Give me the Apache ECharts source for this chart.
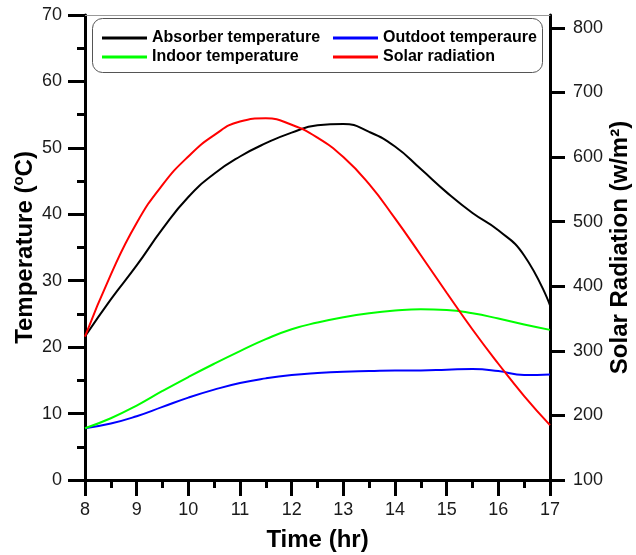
<!DOCTYPE html>
<html>
<head>
<meta charset="utf-8">
<script src="https://cdn.jsdelivr.net/npm/echarts@6/dist/echarts.min.js"></script>
<style>
  html, body { margin: 0; padding: 0; background: #fff; }
  #chart { width: 636px; height: 555px; }
</style>
</head>
<body>
<div id="chart"></div>
<script>
const hours = [8, 8.5, 9, 9.5, 10, 10.5, 11, 11.5, 12, 12.5, 13, 13.5, 14, 14.5, 15, 15.5, 16, 16.5, 17];
const absorber = [21.6, 27.2, 32.3, 37.8, 42.6, 46.1, 48.7, 50.7, 52.3, 53.4, 53.6, 52.4, 50.2, 46.8, 43.3, 40.2, 37.6, 33.8, 26.3];
const outdoor = [7.8, 8.5, 9.6, 11.0, 12.4, 13.6, 14.6, 15.3, 15.8, 16.1, 16.3, 16.4, 16.5, 16.5, 16.6, 16.7, 16.4, 15.8, 15.9];
const indoor = [7.8, 9.3, 11.2, 13.4, 15.5, 17.5, 19.4, 21.2, 22.7, 23.7, 24.5, 25.1, 25.5, 25.7, 25.6, 25.1, 24.3, 23.4, 22.6];
const solar = [322, 418, 498, 557, 601, 634, 655, 660, 650, 630, 600, 558, 505, 448, 390, 333, 280, 230, 185];
const radTicks = [100, 200, 300, 400, 500, 600, 700, 800];

const pairs = vals => hours.map((h, i) => [h, vals[i]]);

const chart = echarts.init(document.getElementById('chart'), null, { renderer: 'canvas' });

const fam = 'Liberation Sans, Arial, sans-serif';
const labelFont = { fontFamily: fam, fontSize: 18, color: '#1a1a1a' };
const nameFont = { fontFamily: fam, fontSize: 24, fontWeight: 'bold', color: '#000' };
const legendText = { fontFamily: fam, fontSize: 16, fontWeight: 'bold', color: '#000' };

function line(name, color, data, axis) {
  return {
    name: name,
    type: 'line',
    yAxisIndex: axis,
    data: pairs(data),
    smooth: 0.5,
    symbol: 'none',
    lineStyle: { color: color, width: 2 },
    itemStyle: { color: color },
    animation: false
  };
}

const option = {
  backgroundColor: '#fff',
  animation: false,
  grid: { left: 85, right: 86, top: 15, bottom: 75, outerBoundsMode: 'none', containLabel: false },
  legend: [{
    left: 97, top: 25, orient: 'vertical', itemGap: 3,
    icon: 'rect', itemWidth: 45, itemHeight: 3,
    textStyle: legendText,
    data: ['Absorber temperature', 'Indoor temperature']
  }, {
    left: 328, top: 25, orient: 'vertical', itemGap: 3,
    icon: 'rect', itemWidth: 45, itemHeight: 3,
    textStyle: legendText,
    data: ['Outdoot temperaure', 'Solar radiation']
  }],
  graphic: [{
    type: 'rect',
    shape: { x: 92.5, y: 18.5, width: 450, height: 54, r: 10 },
    style: { fill: 'none', stroke: '#555', lineWidth: 1 },
    z: 10
  }],
  xAxis: [{
    type: 'value', min: 8, max: 17, interval: 1,
    name: 'Time (hr)', nameLocation: 'middle', nameGap: 48, nameTextStyle: nameFont,
    axisLine: { lineStyle: { color: '#000', width: 3 } },
    axisTick: { length: 16, lineStyle: { color: '#000', width: 3 } },
    minorTick: { show: true, splitNumber: 2, length: 8, lineStyle: { color: '#000', width: 3 } },
    axisLabel: Object.assign({ margin: 21 }, labelFont),
    splitLine: { show: false }
  }, {
    type: 'value', position: 'top', min: 8, max: 17,
    axisLine: { show: true, onZero: false, lineStyle: { color: '#999', width: 1 } },
    axisTick: { show: false }, axisLabel: { show: false }, splitLine: { show: false }
  }],
  yAxis: [{
    type: 'value', min: 0, max: 70, interval: 10,
    name: '{a|Temperature (}{s|o}{a|C)}',
    nameLocation: 'middle', nameGap: 46, nameRotate: 90, nameMoveOverlap: false,
    nameTextStyle: {
      fontFamily: fam, fontSize: 24, fontWeight: 'bold', color: '#000',
      rich: {
        a: { fontFamily: fam, fontSize: 24, fontWeight: 'bold', color: '#000', lineHeight: 28 },
        s: { fontFamily: fam, fontSize: 15, fontWeight: 'bold', color: '#000', verticalAlign: 'top', lineHeight: 28, padding: [0, 0, 8, 0] }
      }
    },
    axisLine: { show: true, onZero: false, lineStyle: { color: '#000', width: 3 } },
    axisTick: { length: 17, lineStyle: { color: '#000', width: 3 } },
    minorTick: { show: true, splitNumber: 2, length: 8, lineStyle: { color: '#000', width: 3 } },
    axisLabel: Object.assign({ margin: 23 }, labelFont),
    splitLine: { show: false }
  }, {
    type: 'value', min: 100, max: 820, position: 'right',
    name: 'Solar Radiation (w/m²)',
    nameLocation: 'middle', nameGap: 58, nameRotate: 90, nameMoveOverlap: false,
    nameTextStyle: nameFont,
    axisLine: { show: true, onZero: false, lineStyle: { color: '#000', width: 3 } },
    axisTick: { length: 15, customValues: radTicks, lineStyle: { color: '#000', width: 3 } },
    axisLabel: Object.assign({ margin: 23, customValues: radTicks }, labelFont),
    splitLine: { show: false }
  }],
  series: [
    line('Absorber temperature', '#000000', absorber, 0),
    line('Outdoot temperaure', '#0000ff', outdoor, 0),
    line('Indoor temperature', '#00ff00', indoor, 0),
    line('Solar radiation', '#ff0000', solar, 1)
  ]
};

chart.setOption(option);
</script>
</body>
</html>
